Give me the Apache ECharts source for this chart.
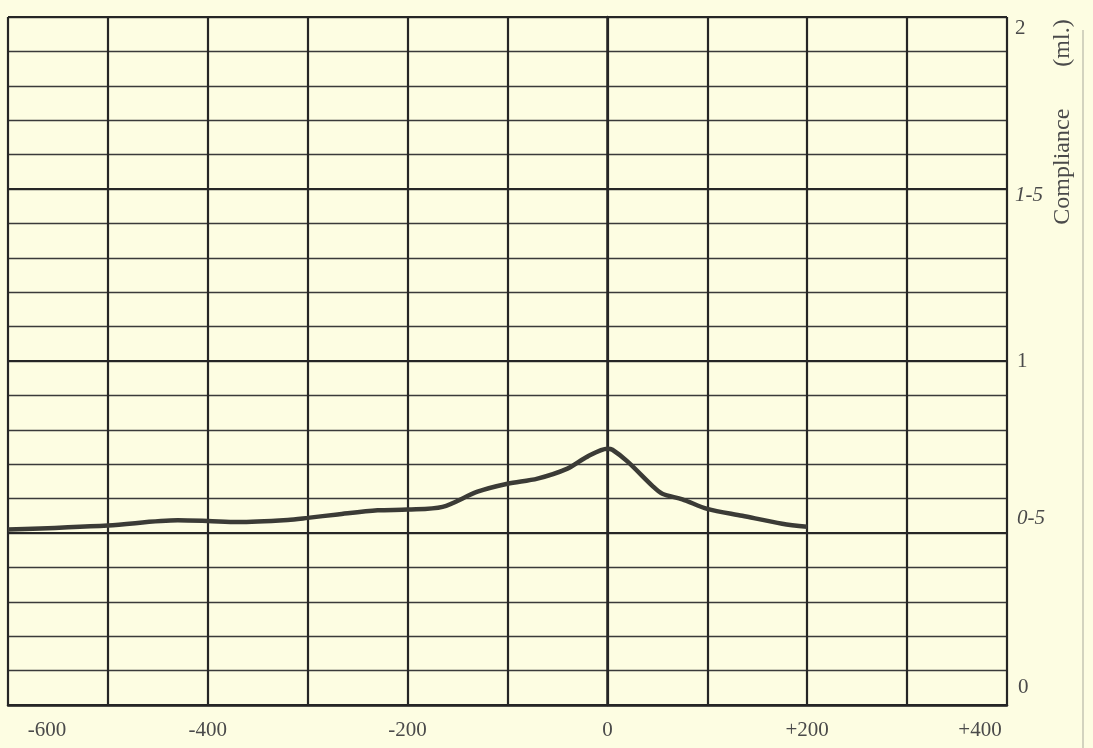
<!DOCTYPE html>
<html>
<head>
<meta charset="utf-8">
<script src="https://cdn.jsdelivr.net/npm/echarts@6/dist/echarts.min.js"></script>
<style>
html,body{margin:0;padding:0;background:#fdfde2;}
#chart{width:1093px;height:748px;}
</style>
</head>
<body>
<div id="chart"></div>
<script>
// Pressure (mm H2O) and compliance (ml.)
const pressure   = [-600,-500,-430,-400,-370,-320,-300,-270,-230,-200,-165,-130,-100,-70,-40,-20,0,5,20,45,55,75,100,135,175,200];
const compliance = [0.51,0.522,0.537,0.535,0.532,0.538,0.544,0.554,0.566,0.568,0.576,0.62,0.643,0.658,0.687,0.722,0.745,0.742,0.708,0.637,0.614,0.598,0.57,0.55,0.527,0.518];
const xTickLabels = {'-600':'-600','-400':'-400','-200':'-200','0':'0','200':'+200','400':'+400'};
const yTickLabels = {'0':'0','0.5':'0-5','1':'1','1.5':'1-5','2':'2'};
const yTitle = 'Compliance       (ml.)';

const chart = echarts.init(document.getElementById('chart'), null, {renderer:'canvas'});
const serif = '"Liberation Serif","DejaVu Serif",serif';
const ink = '#262626';
const lab = '#4a4a4a';
const fs = 21;
chart.setOption({
  backgroundColor:'#fdfde2',
  animation:false,
  grid:{left:8,right:86,top:17,bottom:43,containLabel:false,outerBoundsMode:'none'},
  xAxis:{
    type:'value',min:-600,max:400,interval:100,
    axisLine:{show:true,lineStyle:{color:ink,width:2.5}},
    axisTick:{show:false},
    splitLine:{show:true,lineStyle:{color:ink,width:2.2}},
    axisLabel:{
      margin:15,fontFamily:serif,fontSize:fs,color:lab,
      formatter:function(v){
        const t = xTickLabels[String(v)];
        if(t===undefined) return '';
        if(v===-600) return '{a|'+t+'}';
        if(v===400) return '{b|'+t+'}';
        return t;
      },
      rich:{
        a:{fontFamily:serif,fontSize:fs,color:lab,padding:[0,0,0,78]},
        b:{fontFamily:serif,fontSize:fs,color:lab,padding:[0,54,0,0]}
      }
    }
  },
  yAxis:[{
    type:'value',min:0,max:2,interval:0.1,position:'right',
    axisLine:{show:true,lineStyle:{color:ink,width:2.5}},
    axisTick:{show:false},
    splitLine:{show:true,lineStyle:{color:'#3a3a3a',width:1.4}},
    axisLabel:{
      margin:8,fontFamily:serif,fontSize:fs,color:lab,
      formatter:function(v){
        const k = String(Math.round(v*10)/10);
        const t = yTickLabels[k];
        if(t===undefined) return '';
        if(k==='2') return '{top|'+t+'}';
        if(k==='0') return '{bot|'+t+'}';
        if(k==='0.5') return '{half|'+t+'}';
        if(k==='1.5') return '{oh|'+t+'}';
        return '{one|'+t+'}';
      },
      rich:{
        top:{fontFamily:serif,fontSize:fs,color:lab,padding:[22,0,0,0]},
        bot:{fontFamily:serif,fontSize:fs,color:lab,padding:[0,0,36,3]},
        half:{fontFamily:serif,fontSize:fs,fontStyle:'italic',color:lab,padding:[0,0,30,2]},
        oh:{fontFamily:serif,fontSize:fs,fontStyle:'italic',color:lab,padding:[12,0,0,0]},
        one:{fontFamily:serif,fontSize:fs,color:lab,padding:[0,0,0,2]}
      }
    }
  },{
    type:'value',min:0,max:2,interval:0.5,position:'right',
    axisLine:{show:false},axisTick:{show:false},axisLabel:{show:false},
    splitLine:{show:true,lineStyle:{color:ink,width:2.2}}
  }],
  graphic:[{
    type:'line',shape:{x1:1083,y1:30,x2:1083,y2:748},
    style:{stroke:'#b8b8a8',lineWidth:1.2}
  },{
    type:'text',x:1063,y:122,rotation:Math.PI/2,
    style:{text:yTitle,fontFamily:serif,fontSize:24,fill:lab,align:'center',verticalAlign:'middle'}
  }],
  series:[{
    type:'line',data:pressure.map((p,i)=>[p,compliance[i]]),
    smooth:0.3,showSymbol:false,
    lineStyle:{color:'#3b3b36',width:4.5},
    z:5
  }]
});
</script>
</body>
</html>
